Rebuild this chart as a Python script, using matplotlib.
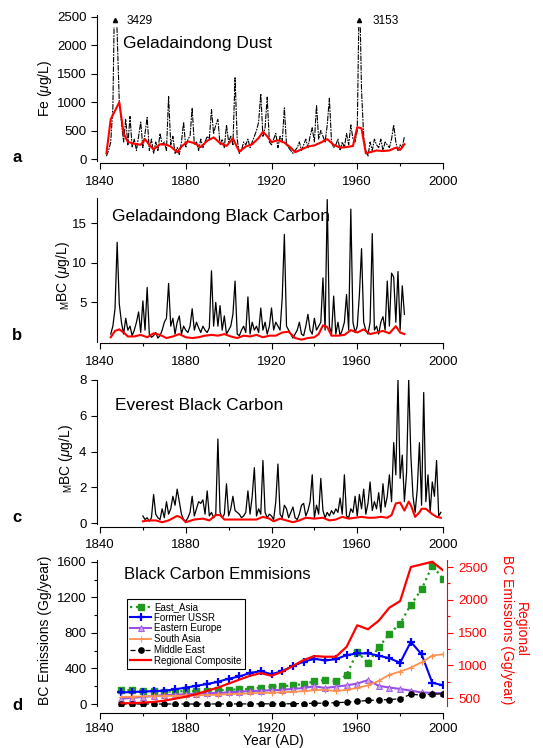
import numpy as np
import matplotlib
matplotlib.use("Agg")
import matplotlib.pyplot as plt
from matplotlib.ticker import MultipleLocator
from matplotlib.patches import Rectangle

plt.rcParams['font.family'] = ['Liberation Sans', 'DejaVu Sans']
plt.rcParams['mathtext.fontset'] = 'custom'
plt.rcParams['mathtext.rm'] = 'Liberation Sans'
plt.rcParams['mathtext.it'] = 'Liberation Sans:italic'

# ---- a: Geladaindong dust (Fe, ug/L), annual 1843-1982 ----
fe_years = np.arange(1843, 1983)
fe_vals = [50, 150, 300, 900, 3429, 2200, 1000,
           650, 300, 700, 250, 750, 200, 350, 150, 400, 650,
           200, 450, 730, 150, 350, 100, 300, 150, 450, 250,
           300, 150, 1100, 250, 400, 100, 200, 80, 300, 650,
           200, 350, 400, 900, 250, 300, 150, 350, 200, 300,
           400, 350, 870, 450, 600, 700, 250, 350, 200, 600,
           300, 400, 250, 1430, 350, 100, 150, 300, 250, 350,
           200, 300, 400, 500, 650, 1150, 400, 550, 1090, 300,
           250, 350, 450, 200, 400, 300, 900, 250, 200, 150,
           100, 150, 200, 300, 150, 250, 350, 200, 400, 550,
           300, 950, 350, 500, 400, 300, 600, 1070, 300, 200,
           250, 350, 150, 300, 200, 450, 250, 600, 350, 300,
           500, 3153, 1200, 400, 150, 50, 300, 150, 350, 250,
           200, 350, 150, 300, 250, 200, 350, 600, 300, 150,
           250, 200, 400]
fe_smooth_years = [1843, 1845, 1847, 1849, 1851, 1853, 1856, 1859, 1861, 1863, 1865, 1868,
                   1871, 1873, 1876, 1878, 1881, 1884, 1887, 1890, 1893, 1896, 1899, 1902,
                   1905, 1908, 1911, 1914, 1916, 1918, 1920, 1923, 1926, 1929, 1931, 1934,
                   1937, 1940, 1943, 1946, 1949, 1952, 1955, 1958, 1960, 1962, 1964, 1966,
                   1969, 1972, 1975, 1978, 1980, 1982]
fe_smooth = [100, 700, 850, 1000, 450, 300, 270, 250, 350, 250, 170, 260,
             250, 220, 120, 220, 310, 280, 210, 320, 380, 280, 230, 360,
             130, 220, 260, 370, 480, 400, 300, 330, 290, 200, 120, 170,
             220, 240, 290, 350, 250, 200, 210, 230, 560, 540, 100, 120,
             150, 140, 150, 200, 160, 260]

# ---- b: Geladaindong black carbon, annual 1845-1982 ----
gbc_years = np.arange(1845, 1983)
gbc_vals = [1.0, 2.0, 4.2, 12.6, 4.8,
            2.5, 1.0, 3.0, 1.5, 2.0, 0.8, 1.5, 2.5, 3.8, 1.2,
            5.2, 1.5, 6.9, 1.0, 0.6, 0.8, 1.2, 0.5, 0.8, 1.5,
            2.5, 3.0, 7.4, 2.0, 3.0, 1.0, 2.5, 3.3, 1.0, 2.0,
            1.5, 1.2, 2.0, 4.2, 1.5, 2.5, 1.8, 1.2, 2.0, 1.5,
            1.2, 1.8, 9.0, 2.0, 5.0, 2.0, 4.6, 1.5, 3.3, 1.0,
            1.5, 2.0, 3.5, 7.7, 1.0, 0.8, 1.5, 2.0, 1.2, 5.7,
            1.0, 2.5, 1.5, 2.0, 1.2, 4.3, 1.5, 2.5, 1.0, 2.0,
            4.3, 1.5, 2.5, 2.0, 1.5, 5.6, 13.6, 2.0, 1.5, 1.0,
            0.5, 1.0, 1.5, 2.5, 1.0, 0.8, 2.0, 3.5, 1.5, 1.0,
            3.0, 1.5, 2.0, 2.5, 8.1, 1.5, 18.0, 2.0, 1.0, 5.8,
            1.0, 2.5, 0.8, 1.5, 2.5, 6.0, 1.5, 16.8, 2.5, 1.2,
            2.0, 6.0, 11.8, 2.5, 1.5, 1.0, 2.5, 13.7, 1.5, 2.0,
            1.0, 2.5, 3.2, 1.5, 7.7, 2.0, 8.7, 8.2, 2.5, 8.9,
            1.5, 7.1, 3.5]
gbc_smooth_years = [1845, 1847, 1849, 1851, 1853, 1856, 1859, 1862, 1865, 1868,
                    1871, 1874, 1877, 1880, 1883, 1886, 1889, 1892, 1895, 1898,
                    1901, 1904, 1907, 1910, 1913, 1916, 1919, 1922, 1925, 1928,
                    1931, 1934, 1937, 1940, 1942, 1944, 1946, 1948, 1951, 1954,
                    1957, 1960, 1963, 1966, 1969, 1972, 1975, 1978, 1980, 1982]
gbc_smooth = [0.6, 1.4, 1.6, 1.2, 0.7, 0.7, 0.9, 0.6, 1.1, 0.9,
              0.5, 0.7, 1.0, 0.6, 0.5, 0.6, 0.8, 0.9, 0.8, 1.0,
              0.7, 0.5, 0.8, 0.7, 0.9, 0.6, 0.8, 0.8, 1.2, 1.3,
              0.5, 0.3, 0.5, 0.6, 1.0, 2.1, 1.9, 0.8, 0.8, 0.9,
              1.5, 1.2, 1.6, 1.0, 1.2, 1.4, 1.1, 2.0, 1.2, 1.0]

# ---- c: Everest black carbon, annual 1860-1999 ----
ebc_years = np.arange(1860, 2000)
ebc_vals = [0.4, 0.2, 0.3, 0.1, 0.3, 1.6, 0.5, 0.3, 0.2, 0.8,
            0.3, 1.2, 0.5, 0.8, 1.5, 1.0, 1.9, 1.2, 0.5, 0.2,
            0.1, 0.3, 0.6, 1.5, 0.4, 0.8, 1.2, 1.1, 1.3, 0.5,
            1.8, 0.4, 0.6, 0.3, 0.5, 4.7, 0.6, 0.3, 0.5, 2.2,
            0.4, 0.8, 1.5, 0.7, 0.6, 0.5, 0.3, 0.4, 0.6, 1.8,
            0.5, 1.5, 3.1, 0.4, 0.8, 0.5, 3.5, 0.6, 0.3, 0.5,
            0.4, 0.2, 1.2, 3.3, 0.5, 0.3, 1.0, 0.8, 0.3, 0.6,
            0.9, 0.3, 0.2, 0.5, 1.0, 1.1, 0.4, 0.7, 1.2, 2.7,
            0.3, 1.0, 0.5, 2.5, 0.7, 0.3, 0.6, 0.4, 0.7, 0.5,
            0.8, 0.6, 1.4, 0.5, 2.7, 0.4, 0.3, 0.8, 0.6, 1.5,
            0.4, 1.6, 0.8, 1.9, 0.5, 1.1, 2.3, 0.7, 1.2, 0.8,
            1.7, 0.6, 2.2, 0.9, 1.5, 2.7, 1.2, 4.5, 2.7, 8.0,
            2.5, 3.8, 1.2, 2.8, 8.0, 3.8, 1.5, 0.6, 1.9, 4.5,
            1.0, 7.3, 1.2, 2.7, 0.6, 2.3, 1.5, 3.5, 0.4, 0.6]
ebc_smooth_years = [1860, 1863, 1866, 1869, 1872, 1876, 1878, 1880, 1884, 1888,
                    1891, 1894, 1896, 1898, 1902, 1906, 1910, 1913, 1916, 1919,
                    1921, 1924, 1927, 1930, 1933, 1936, 1940, 1944, 1947, 1950,
                    1953, 1956, 1959, 1962, 1965, 1968, 1971, 1974, 1976, 1978,
                    1980, 1982, 1984, 1985, 1987, 1989, 1990, 1992, 1995, 1997, 1999]
ebc_smooth = [0.1, 0.15, 0.15, 0.05, 0.15, 0.4, 0.3, 0.05, 0.2, 0.25,
              0.15, 0.45, 0.45, 0.2, 0.2, 0.2, 0.2, 0.2, 0.35, 0.25,
              0.1, 0.25, 0.15, 0.05, 0.15, 0.3, 0.25, 0.3, 0.15, 0.2,
              0.35, 0.25, 0.3, 0.35, 0.3, 0.3, 0.35, 0.3, 0.45, 1.1,
              1.15, 0.7, 1.2, 1.0, 0.35, 0.6, 0.8, 0.8, 0.5, 0.35, 0.3]

# ---- d: BC emissions (Gg/year), every 5 years 1850-2000 ----
em_years = np.arange(1850, 2001, 5)
east_asia = [160, 155, 148, 145, 140, 140, 145, 145, 150, 155, 160, 165, 170, 185, 195, 200,
             210, 225, 255, 270, 255, 325, 590, 460, 640, 790, 905, 1120, 1290, 1560, 1410]
former_ussr = [130, 135, 140, 145, 150, 165, 185, 205, 225, 250, 285, 310, 350, 370, 335, 370,
               430, 475, 510, 490, 505, 550, 570, 570, 545, 515, 465, 700, 560, 240, 210]
eastern_europe = [60, 70, 80, 90, 100, 105, 110, 115, 120, 125, 130, 140, 145, 150, 155, 160,
                  170, 180, 200, 180, 195, 210, 230, 270, 205, 185, 170, 150, 130, 125, 120]
south_asia = [80, 82, 85, 88, 90, 93, 95, 98, 100, 105, 110, 115, 120, 125, 128, 132,
              138, 145, 155, 160, 145, 160, 180, 210, 260, 330, 365, 410, 470, 545, 560]
middle_east = [0, 0, 0, 0, 0, 0, 0, 0, 0, 1, 1, 1, 1, 2, 2, 2,
               3, 5, 8, 10, 15, 20, 30, 40, 45, 50, 60, 110, 100, 110, 115]
regional = [420, 420, 430, 440, 460, 490, 520, 560, 610, 660, 720, 780, 840, 880, 840, 900,
            990, 1080, 1140, 1130, 1130, 1280, 1610, 1550, 1680, 1880, 1980, 2500, 2540, 2580, 2450]

W, H = 543, 748
fig = plt.figure(figsize=(W / 100, H / 100), dpi=100)


def ax_at(l, t, r, b):
    return fig.add_axes([l / W, 1 - b / H, (r - l) / W, (b - t) / H])


def style(ax, bottom_off, pad=5):
    for s in ['top', 'right']:
        ax.spines[s].set_visible(False)
    ax.spines['left'].set_position(('outward', 2.2))
    ax.spines['bottom'].set_position(('outward', bottom_off))
    ax.set_xlim(1840, 2000)
    ax.xaxis.set_major_locator(MultipleLocator(40))
    ax.xaxis.set_minor_locator(MultipleLocator(20))
    ax.tick_params(which='major', length=4, width=0.8, labelsize=9.5)
    ax.tick_params(which='minor', length=2.5, width=0.8)
    ax.tick_params(axis='x', pad=pad)
    ax.patch.set_alpha(0)


# a
axa = ax_at(100, 15, 443, 161)
fe_line, = axa.plot(fe_years, fe_vals, color='black', lw=0.8, dashes=(5, 1, 1.5, 1))
# off-scale peaks are cut a little below the marker triangles
fe_line.set_clip_path(Rectangle((1840, -100), 160, 2430, transform=axa.transData))
axa.plot(fe_smooth_years, fe_smooth, color='red', lw=1.5)
axa.set_ylim(-35, 2535)
axa.yaxis.set_major_locator(MultipleLocator(500))
style(axa, 1.5)
axa.plot([1847, 1961], [2450, 2450], '^', color='black', ms=3, ls='none')
axa.text(1852.5, 2430, '3429', fontsize=8.5, va='center')
axa.text(1967, 2430, '3153', fontsize=8.5, va='center')
axa.text(1850.5, 2040, 'Geladaindong Dust', fontsize=12.5, va='center')

# b
axb = ax_at(100, 198, 443, 342)
axb.plot(gbc_years, gbc_vals, color='black', lw=0.9)
axb.plot(gbc_smooth_years, gbc_smooth, color='red', lw=1.5)
axb.set_ylim(0, 18.2)
axb.set_yticks([5, 10, 15])
style(axb, 1)
axb.text(1845.5, 15.9, 'Geladaindong Black Carbon', fontsize=12.5, va='center')

# c
axc = ax_at(100, 380, 443, 524)
axc.plot(ebc_years, ebc_vals, color='black', lw=0.9)
axc.plot(ebc_smooth_years, ebc_smooth, color='red', lw=1.5)
axc.set_ylim(-0.05, 8.0)
axc.yaxis.set_major_locator(MultipleLocator(2))
style(axc, 2)
axc.text(1847, 6.6, 'Everest Black Carbon', fontsize=12.5, va='center')

# d
axd = ax_at(100, 560, 443, 706)
axd.plot(em_years, east_asia, color='#1e9a1e', ls=':', lw=1.6, marker='s', ms=4.2,
         label='East_Asia')
axd.plot(em_years, former_ussr, color='#0000ff', lw=1.5, marker='+', ms=6, mew=1.6,
         label='Former USSR')
axd.plot(em_years, eastern_europe, color='#9a4ee6', lw=1.5, marker='^', ms=4, mfc='#c9a6f2',
         mew=0.6, label='Eastern Europe')
axd.plot(em_years, south_asia, color='#ff9150', lw=1.3, marker='+', ms=5, mew=0.8,
         label='South Asia')
axd.plot(em_years, middle_east, color='black', ls=(0, (4, 2)), lw=0.9, marker='o', ms=3.8,
         label='Middle East')
axd.set_ylim(-22.5, 1622)
axd.yaxis.set_major_locator(MultipleLocator(400))
axd.yaxis.set_minor_locator(MultipleLocator(200))
style(axd, 5, pad=3)
axd.text(1851, 1460, 'Black Carbon Emmisions', fontsize=12, va='center')

axr = axd.twinx()
reg_line, = axr.plot(em_years, regional, color='red', lw=1.6, label='Regional Composite')
axr.set_ylim(378, 2607)
axr.set_xlim(1840, 2000)
for s in ['top', 'left', 'bottom']:
    axr.spines[s].set_visible(False)
axr.spines['right'].set_position(('outward', 3))
axr.spines['right'].set_color('red')
axr.yaxis.set_major_locator(MultipleLocator(500))
axr.yaxis.set_minor_locator(MultipleLocator(250))
axr.tick_params(which='major', length=4, width=0.8, labelsize=9.5, colors='red', pad=4)
axr.tick_params(which='minor', length=2.5, width=0.8, colors='red')

h, l = axd.get_legend_handles_labels()
leg = fig.legend(h + [reg_line], l + ['Regional Composite'], loc='upper left',
                 bbox_to_anchor=(127 / W, 1 - 599 / H), fontsize=7, frameon=True,
                 fancybox=False, edgecolor='black', framealpha=1, borderpad=0.3,
                 labelspacing=0.08, handlelength=2.2, handletextpad=0.3, borderaxespad=0)
leg.get_frame().set_linewidth(0.8)

# axis labels
fig.text(45 / W, 1 - 88 / H, r'Fe ($\mu$g/L)', rotation=90, ha='center', va='center', fontsize=10)
fig.text(63 / W, 1 - 275 / H, r'${}_{\rm M}$BC ($\mu$g/L)', rotation=90, ha='center',
         va='center', fontsize=10)
fig.text(66 / W, 1 - 458 / H, r'${}_{\rm M}$BC ($\mu$g/L)', rotation=90, ha='center',
         va='center', fontsize=10)
fig.text(45 / W, 1 - 630 / H, 'BC Emissions (Gg/year)', rotation=90, ha='center',
         va='center', fontsize=10)
fig.text(514 / W, 1 - 630 / H, 'Regional\nBC Emissions (Gg/year)', rotation=270, ha='center',
         va='center', fontsize=10, color='red', linespacing=1.0)
fig.text(273 / W, 1 - 741 / H, 'Year (AD)', ha='center', va='center', fontsize=10)

# panel letters
for lab, y in [('a', 158), ('b', 336), ('c', 518), ('d', 706)]:
    fig.text(17 / W, 1 - y / H, lab, fontsize=12, fontweight='bold', ha='center', va='center')

fig.savefig('out.png', dpi=100)
